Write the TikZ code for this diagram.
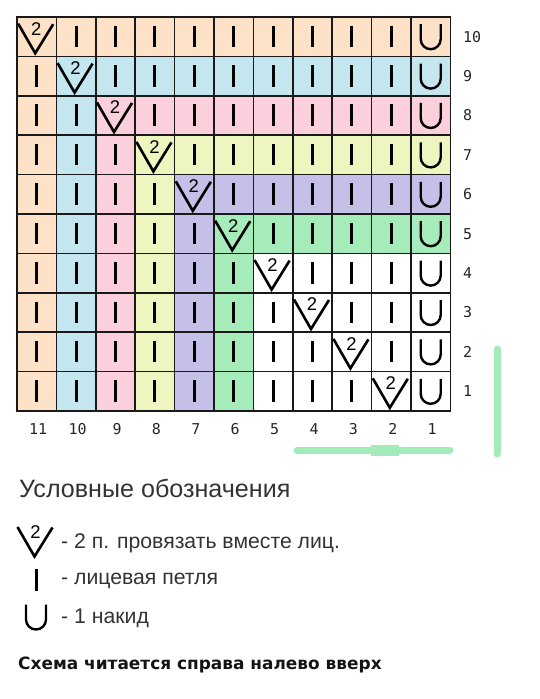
\documentclass[tikz,border=0pt]{standalone}
\usepackage{fontspec}
\setmainfont{Liberation Sans}
\newfontfamily\numfont{DejaVu Sans Mono}
\newfontfamily\notefont{DejaVu Sans}
\usetikzlibrary{positioning}

\definecolor{col11}{HTML}{FDE2C8}
\definecolor{col10}{HTML}{C4E6EE}
\definecolor{col9}{HTML}{FCCFDC}
\definecolor{col8}{HTML}{EEF5BE}
\definecolor{col7}{HTML}{C5C0E8}
\definecolor{col6}{HTML}{A6EBBA}
\definecolor{marker}{HTML}{A3EBB8}

\tikzset{
    gridline/.style={line width=1.6bp, color=black!90},
    numlabel/.style={font=\numfont\fontsize{15}{16}\selectfont, text=black!85, inner sep=0pt},
    legendtext/.style={font=\fontsize{21.3}{22}\selectfont, text=black!80, inner sep=0pt, anchor=base west},
    greenmark/.style={line width=7bp, color=marker, line cap=round},
    knit/.pic={\draw[line width=3bp] (0,-11) -- (0,10.5);},
    ktog/.pic={\draw[line width=2.6bp] (-18.5,-13) -- (-1.5,16.5) -- (16.5,-12.5);
               \node[font=\fontsize{18.5}{18.5}\selectfont, inner sep=0pt] at (-0.5,-8) {2};},
    yarnover/.pic={\draw[line width=2.4bp] (-10,-12.5) -- (-10,2.5) arc[start angle=180, end angle=360, radius=10bp] -- (10,-12.5);}
}

\begin{document}
\begin{tikzpicture}[x=1bp, y=-1bp]
    \useasboundingbox (0,0) rectangle (540,699);
    \def\L{17}; \def\T{17}; \def\c{39.4}

    \foreach \k in {1, ..., 11} {
        \foreach \r in {1, ..., 10} {
            \pgfmathtruncatemacro\m{max(\k, \r + 1)}
            \ifnum\m>5
                \fill[col\m] ({\L + (11 - \k)*\c}, {\T + (10 - \r)*\c}) rectangle +(\c, \c);
            \fi
        }
    }

    \foreach \i in {0, ..., 11} {
        \draw[gridline] ({\L + \i*\c}, \T) -- ({\L + \i*\c}, {\T + 10*\c});
    }
    \foreach \j in {0, ..., 10} {
        \draw[gridline] (\L, {\T + \j*\c}) -- ({\L + 11*\c}, {\T + \j*\c});
    }
    \draw[gridline] (\L, \T) rectangle ({\L + 11*\c}, {\T + 10*\c});

    \foreach \k in {1, ..., 11} {
        \foreach \r in {1, ..., 10} {
            \pgfmathtruncatemacro\n{\r + 1}
            \ifnum\k=1
                \pic at ({\L + (11.5 - \k)*\c}, {\T + (10.5 - \r)*\c}) {yarnover};
            \else\ifnum\k=\n
                \pic at ({\L + (11.5 - \k)*\c}, {\T + (10.5 - \r)*\c}) {ktog};
            \else
                \pic at ({\L + (11.5 - \k)*\c}, {\T + (10.5 - \r)*\c}) {knit};
            \fi\fi
        }
    }

    \foreach \r in {1, ..., 10} {
        \node[numlabel, anchor=west] (row\r) at (463, {\T + (10.5 - \r)*\c}) {\r};
    }
    \foreach \k in {1, ..., 11} {
        \node[numlabel] (col\k) at ({\L + (11.5 - \k)*\c + 1.5}, 429) {\k};
    }

    \draw[greenmark] (297, 450) -- (450, 450);
    \draw[greenmark, line width=11bp, line cap=butt] (371, 450) -- (399, 450);
    \draw[greenmark] (497, 349) -- (497, 454);

    \node[font=\fontsize{25.2}{26}\selectfont, text=black!80, inner sep=0pt, anchor=base west] (legend) at (19, 497) {Условные обозначения};

    \pic at (36, 540) {ktog};
    \node[legendtext] (ktogtext) at (61, 548) {- 2 п. провязать вместе лиц.};
    \pic at (36, 580) {knit};
    \node[legendtext] (knittext) at (61, 584) {- лицевая петля};
    \pic at (36, 617) {yarnover};
    \node[legendtext] (yarntext) at (61, 623) {- 1 накид};

    \node[font=\notefont\bfseries\fontsize{17}{18}\selectfont, text=black!92, inner sep=0pt, anchor=base west] (readnote) at (18, 669) {Схема читается справа налево вверх};
\end{tikzpicture}
\end{document}
